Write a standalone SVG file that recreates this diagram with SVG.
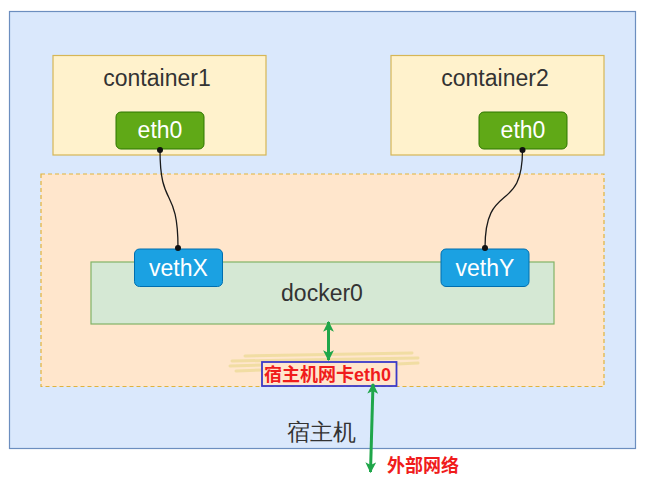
<svg xmlns="http://www.w3.org/2000/svg" width="649" height="483" viewBox="0 0 649 483">
<defs>
<style>
.t{font-family:"Liberation Sans",Arial,sans-serif;font-size:23px;fill:#333;text-anchor:middle}
.w{font-family:"Liberation Sans",Arial,sans-serif;font-size:23px;fill:#fff;text-anchor:middle}
.r{font-family:"Liberation Sans","Noto Sans CJK SC",sans-serif;font-size:18px;font-weight:bold;fill:#f01c1c}
.cont{fill:#fff2cc;stroke:#d6b656;stroke-width:1.2}
.eth{fill:#60a917;stroke:#2d7600;stroke-width:1}
.veth{fill:#1ba1e2;stroke:#006eaf;stroke-width:1}
.wire{fill:none;stroke:#1a1a1a;stroke-width:1.3}
.garr{stroke:#1fa64a;stroke-width:3;fill:none}
</style>
<marker id="ga" viewBox="0 0 10 10" refX="9" refY="5" markerWidth="3.6" markerHeight="3.6" orient="auto-start-reverse" markerUnits="strokeWidth">
<path d="M0,0 L10,5 L0,10 L2.5,5 z" fill="#1fa64a"/>
</marker>
</defs>
<g id="host">
<rect x="9.5" y="11.5" width="626" height="437" fill="#dae8fc" stroke="#6c8ebf" stroke-width="1.2"/>
<text class="t" x="321" y="440">宿主机</text>
</g>
<g id="container1">
<rect class="cont" x="53" y="55.5" width="213" height="99.5"/>
<text class="t" x="157" y="86">container1</text>
</g>
<g id="container2">
<rect class="cont" x="391" y="55.5" width="213" height="99.5"/>
<text class="t" x="495" y="86">container2</text>
</g>
<g id="bridge-area">
<rect x="41" y="174" width="563" height="212.5" fill="#ffe6cc" stroke="#e0b33c" stroke-width="1.2" stroke-dasharray="4,3"/>
</g>
<g id="docker0">
<rect x="91" y="262" width="463" height="62" fill="#d5e8d4" stroke="#82b366" stroke-width="1.2"/>
<text class="t" x="322" y="301">docker0</text>
</g>
<g id="eth0-c1">
<rect class="eth" x="116" y="112" width="88" height="37" rx="5"/>
<text class="w" x="160" y="138">eth0</text>
</g>
<g id="eth0-c2">
<rect class="eth" x="479" y="112" width="88" height="37" rx="5"/>
<text class="w" x="523" y="138">eth0</text>
</g>
<g id="vethX">
<rect class="veth" x="134.5" y="249" width="88" height="37.5" rx="5"/>
<text class="w" x="178.5" y="276">vethX</text>
</g>
<g id="vethY">
<rect class="veth" x="441" y="249" width="88" height="37.5" rx="5"/>
<text class="w" x="485" y="276">vethY</text>
</g>
<g id="host-nic">
<g stroke="#eedc9a" stroke-width="3" stroke-linecap="round" opacity="0.8">
<path d="M245,356 L412,353"/>
<path d="M232,361 L418,358"/>
<path d="M230,366 L262,365"/>
<path d="M236,371 L262,370"/>
<path d="M397,364 L418,363"/>
</g>
<rect x="262" y="362" width="134.5" height="24" fill="#ffe6cc" stroke="#3a3ac8" stroke-width="1.8"/>
<text class="r" x="264" y="381">宿主机网卡eth0</text>
</g>
<g id="external">
<text class="r" x="387" y="472">外部网络</text>
</g>
<g id="connectors">
<path class="wire" d="M160,150 C160,210 178,185 178,248"/>
<circle cx="160" cy="150" r="3" fill="#111"/>
<circle cx="178" cy="248" r="3" fill="#111"/>
<path class="wire" d="M522.5,150 C522.5,215 485,180 485,248"/>
<circle cx="522.5" cy="150" r="3" fill="#111"/>
<circle cx="485" cy="248" r="3" fill="#111"/>
<path class="garr" d="M328.5,322 L328.5,360" marker-start="url(#ga)" marker-end="url(#ga)"/>
<path class="garr" d="M373,384 L370.5,472" marker-start="url(#ga)" marker-end="url(#ga)"/>
</g>
</svg>
